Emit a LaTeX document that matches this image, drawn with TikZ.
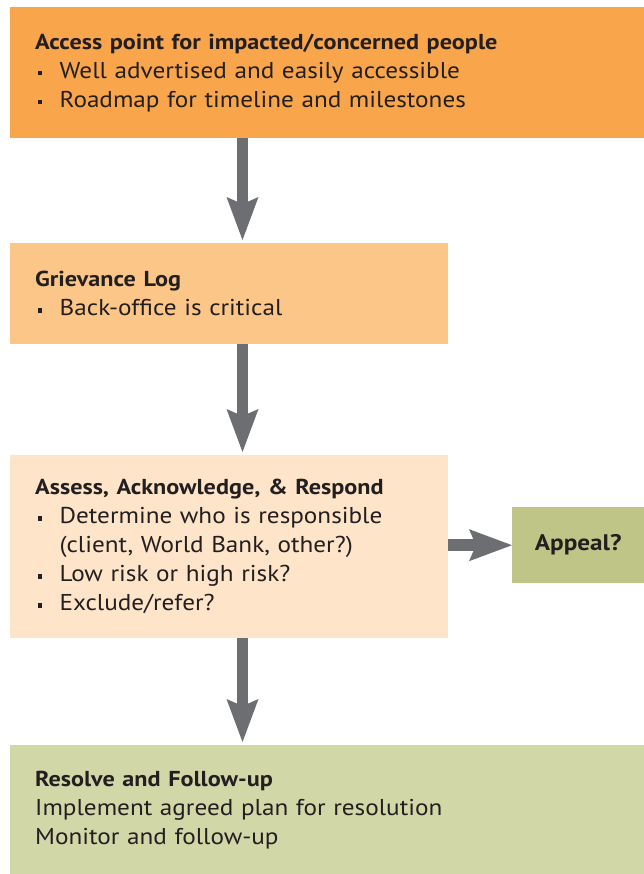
\documentclass[tikz,border=0pt]{standalone}
\usepackage{fontspec}
\setmainfont{PT Sans}[UprightFeatures={FakeStretch=1.10},BoldFeatures={FakeStretch=1.12}]
\usetikzlibrary{arrows.meta,positioning}
\definecolor{GRMOrange}{HTML}{F8A54B}
\definecolor{GRMPeach}{HTML}{FBC688}
\definecolor{GRMCream}{HTML}{FEE4C8}
\definecolor{GRMOlive}{HTML}{BFC586}
\definecolor{GRMSage}{HTML}{D2D7A8}
\definecolor{GRMGray}{HTML}{6D6E71}
\definecolor{GRMText}{HTML}{231F20}
\newcommand{\sqbul}{\makebox[24.5pt][l]{\hspace{2.5pt}\rule[3pt]{4.5pt}{4.5pt}}}
\newcommand{\hd}[1]{{\bfseries\fontsize{21.6}{29}\selectfont #1}}

\begin{document}
\begin{tikzpicture}[x=1pt,y=-1pt,
  stage/.style={anchor=north west,inner xsep=25pt,inner ysep=0pt,align=left,
                font=\fontsize{22.9}{29}\selectfont,text=GRMText},
  appealbox/.style={anchor=north west,fill=GRMOlive,minimum width=132pt,minimum height=76pt,
                    inner sep=0pt,font=\bfseries\fontsize{22.5}{29}\selectfont,text=GRMText},
  flow/.style={draw=GRMGray,line width=11pt,shorten >=3pt,
               -{Stealth[length=43pt,width=32pt,inset=7pt,line width=0pt]}},
]
\useasboundingbox (0,0) rectangle (644,874);
\node[stage,fill=GRMOrange,text width=584pt,minimum height=131pt] (access) at (10,7)
  {\hd{Access point for impacted/concerned people}\\
   \sqbul Well advertised and easily accessible\\
   \sqbul Roadmap for timeline and milestones};
\node[stage,fill=GRMPeach,text width=388pt,minimum height=101pt] (grievance) at (10,243)
  {\hd{Grievance Log}\\
   \sqbul Back-office is critical};
\node[stage,fill=GRMCream,text width=388pt,minimum height=183pt] (assess) at (10,455)
  {\hd{Assess, Acknowledge, \& Respond}\\
   \sqbul Determine who is responsible\\
   \hspace*{24.5pt}(client, World Bank, other?)\\
   \sqbul Low risk or high risk?\\
   \sqbul Exclude/refer?};
\node[appealbox] (appeal) at (512,507) {Appeal?};
\node[stage,fill=GRMSage,text width=584pt,minimum height=129pt] (resolve) at (10,745)
  {\hd{Resolve and Follow-up}\\
   Implement agreed plan for resolution\\
   Monitor and follow-up};
% arrows
\coordinate (spine) at (242.5,0);
\draw[flow] (access.south -| spine) -- (grievance.north -| spine);
\draw[flow] (grievance.south -| spine) -- (assess.north -| spine);
\draw[flow] (assess.south -| spine) -- (resolve.north -| spine);
\draw[flow,line width=12pt,shorten >=0pt] (assess.east |- appeal.west) -- (appeal.west);
\end{tikzpicture}
\end{document}
